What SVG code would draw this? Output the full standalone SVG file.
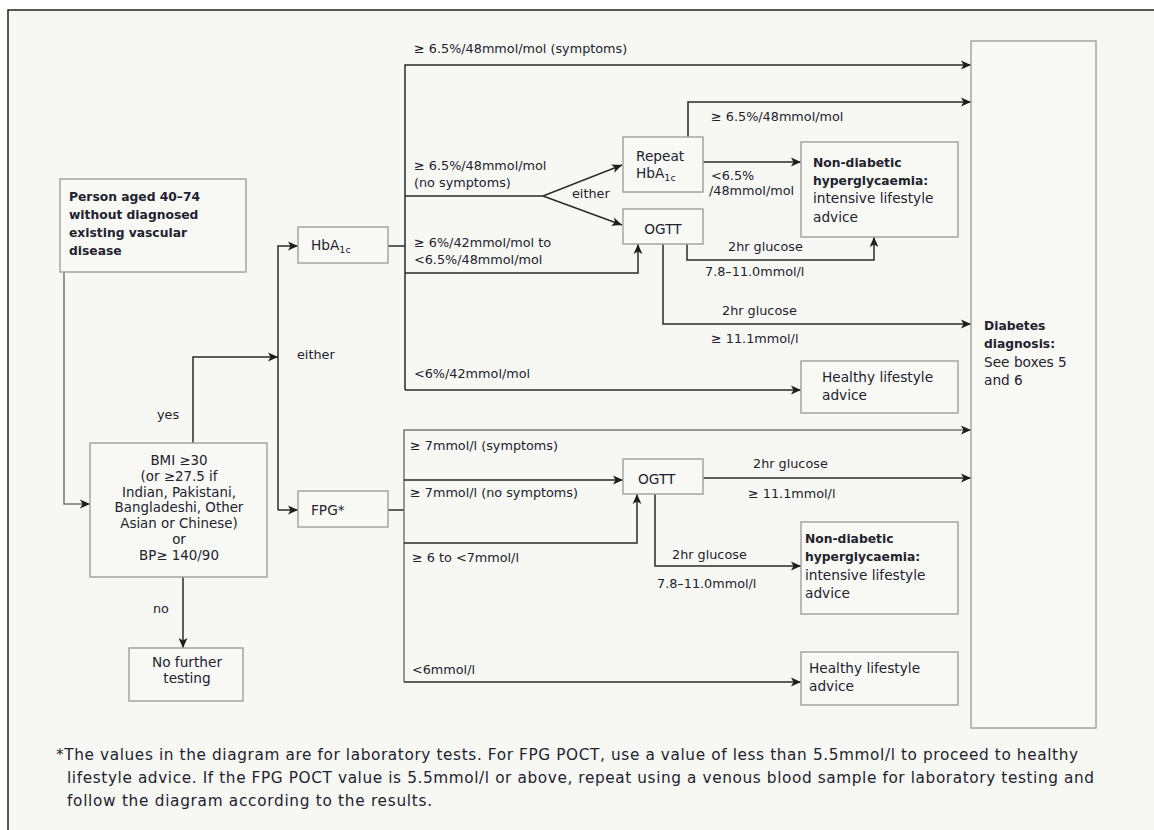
<svg xmlns="http://www.w3.org/2000/svg" width="1154" height="830" viewBox="0 0 1154 830">
<defs>
<style>
.bx{fill:#f8f9f5;stroke:#a5a5a5;stroke-width:1.5}
.c{fill:none;stroke:#2a2a2a;stroke-width:1.5}
.g{stroke:#777}
text{font-family:"DejaVu Sans","Liberation Sans",sans-serif;font-size:12.8px;fill:#22222e}
.n{font-size:13.7px}
.b{font-weight:bold;font-size:12.3px}
.m{text-anchor:middle}
.bmi{font-size:13.4px}
.fn{font-size:15.3px}
.sub{font-size:9.5px}
</style>
<marker id="a" markerUnits="userSpaceOnUse" markerWidth="11" markerHeight="10" refX="10" refY="5" orient="auto">
<path d="M0,0.6 L10,5 L0,9.4 L2.5,5 z" fill="#1e1e1e"/>
</marker>
</defs>
<rect x="0" y="0" width="1154" height="830" fill="#ffffff"/>
<rect x="8" y="10" width="1150" height="824" fill="#f7f8f3"/>
<path d="M8,834 V10 H1158" fill="none" stroke="#222" stroke-width="1.5"/>

<g id="connectors" marker-end="url(#a)">
<path class="c g" d="M64,272 V504 H90"/>
<path class="c" d="M193,443 V357 H278"/>
<path class="c" d="M278,510 V246 H298"/>
<path class="c" d="M278,510 H298"/>
<path class="c" d="M183,577 V648"/>
<path class="c" d="M388,246 H405" marker-end="none"/>
<path class="c" d="M405,390 V65 H971"/>
<path class="c" d="M405,196 H543 L622,165"/>
<path class="c" d="M543,196 L622,225"/>
<path class="c" d="M405,273 H638 V244"/>
<path class="c" d="M405,390 H801"/>
<path class="c" d="M688,137 V102 H971"/>
<path class="c" d="M703,162 H801"/>
<path class="c" d="M687,244 V260 H874 V237"/>
<path class="c" d="M663,244 V324 H971"/>
<path class="c" d="M388,510 H404" marker-end="none"/>
<path class="c g" d="M404,682 V430 H971"/>
<path class="c" d="M404,480 H623"/>
<path class="c" d="M404,543 H637 V494"/>
<path class="c" d="M404,682 H801"/>
<path class="c" d="M703,478 H971"/>
<path class="c" d="M655,494 V566 H801"/>
</g>

<g id="edge-labels">
<text x="414" y="53">≥ 6.5%/48mmol/mol (symptoms)</text>
<text x="414" y="170">≥ 6.5%/48mmol/mol<tspan x="414" dy="16.5">(no symptoms)</tspan></text>
<text x="572" y="198">either</text>
<text x="414" y="247">≥ 6%/42mmol/mol to<tspan x="414" dy="17">&lt;6.5%/48mmol/mol</tspan></text>
<text x="414" y="378">&lt;6%/42mmol/mol</text>
<text x="711" y="121">≥ 6.5%/48mmol/mol</text>
<text x="711" y="180">&lt;6.5%<tspan x="709" dy="15">/48mmol/mol</tspan></text>
<text x="728" y="251">2hr glucose</text>
<text x="705" y="276">7.8–11.0mmol/l</text>
<text x="722" y="315">2hr glucose</text>
<text x="711" y="343">≥ 11.1mmol/l</text>
<text x="297" y="359">either</text>
<text x="157" y="419">yes</text>
<text x="153" y="613">no</text>
<text x="410" y="450">≥ 7mmol/l (symptoms)</text>
<text x="410" y="497">≥ 7mmol/l (no symptoms)</text>
<text x="412" y="562">≥ 6 to &lt;7mmol/l</text>
<text x="412" y="674">&lt;6mmol/l</text>
<text x="753" y="468">2hr glucose</text>
<text x="748" y="498">≥ 11.1mmol/l</text>
<text x="672" y="559">2hr glucose</text>
<text x="657" y="588">7.8–11.0mmol/l</text>
</g>

<g id="person">
<rect class="bx" x="60" y="179" width="186" height="93"/>
<text class="b" x="69" y="201">Person aged 40–74<tspan x="69" dy="18">without diagnosed</tspan><tspan x="69" dy="18">existing vascular</tspan><tspan x="69" dy="18">disease</tspan></text>
</g>

<g id="bmi">
<rect class="bx" x="90" y="443" width="177" height="134"/>
<text class="bmi m" x="179" y="465">BMI ≥30<tspan x="179" dy="15.8">(or ≥27.5 if</tspan><tspan x="179" dy="15.8">Indian, Pakistani,</tspan><tspan x="179" dy="15.8">Bangladeshi, Other</tspan><tspan x="179" dy="15.8">Asian or Chinese)</tspan><tspan x="179" dy="15.8">or</tspan><tspan x="179" dy="15.8">BP≥ 140/90</tspan></text>
</g>

<g id="no-further">
<rect class="bx" x="129" y="648" width="114" height="53"/>
<text class="n m" x="187" y="667">No further<tspan x="187" dy="16">testing</tspan></text>
</g>

<g id="hba1c">
<rect class="bx" x="298" y="227" width="90" height="36"/>
<text class="n" x="311" y="250">HbA<tspan class="sub" dy="3">1c</tspan></text>
</g>

<g id="fpg">
<rect class="bx" x="298" y="491" width="90" height="36"/>
<text class="n" x="311" y="515">FPG*</text>
</g>

<g id="repeat-hba1c">
<rect class="bx" x="623" y="137" width="80" height="55"/>
<text class="n" x="636" y="161">Repeat<tspan x="636" dy="17">HbA</tspan><tspan class="sub" dy="3">1c</tspan></text>
</g>

<g id="ogtt1">
<rect class="bx" x="623" y="209" width="80" height="35"/>
<text class="n m" x="663" y="234">OGTT</text>
</g>

<g id="ogtt2">
<rect class="bx" x="623" y="459" width="80" height="35"/>
<text class="n" x="638" y="484">OGTT</text>
</g>

<g id="ndh1">
<rect class="bx" x="801" y="142" width="157" height="95"/>
<text class="b" x="813" y="167">Non-diabetic<tspan x="813" dy="18">hyperglycaemia:</tspan></text>
<text class="n" x="813" y="203">intensive lifestyle<tspan x="813" dy="19">advice</tspan></text>
</g>

<g id="healthy1">
<rect class="bx" x="801" y="361" width="157" height="52"/>
<text class="n" x="822" y="382">Healthy lifestyle<tspan x="822" dy="18">advice</tspan></text>
</g>

<g id="ndh2">
<rect class="bx" x="801" y="522" width="157" height="92"/>
<text class="b" x="805" y="543">Non-diabetic<tspan x="805" dy="18">hyperglycaemia:</tspan></text>
<text class="n" x="805" y="580">intensive lifestyle<tspan x="805" dy="18">advice</tspan></text>
</g>

<g id="healthy2">
<rect class="bx" x="801" y="652" width="157" height="53"/>
<text class="n" x="809" y="673">Healthy lifestyle<tspan x="809" dy="18">advice</tspan></text>
</g>

<g id="diabetes">
<rect class="bx" x="971" y="41" width="125" height="687"/>
<text class="b" x="984" y="330">Diabetes<tspan x="984" dy="18">diagnosis:</tspan></text>
<text class="n" x="984" y="367">See boxes 5<tspan x="984" dy="18">and 6</tspan></text>
</g>

<g id="footnote">
<text class="fn" x="56" y="760" textLength="1022">*The values in the diagram are for laboratory tests. For FPG POCT, use a value of less than 5.5mmol/l to proceed to healthy</text>
<text class="fn" x="67" y="783" textLength="1027">lifestyle advice. If the FPG POCT value is 5.5mmol/l or above, repeat using a venous blood sample for laboratory testing and</text>
<text class="fn" x="67" y="806" textLength="365">follow the diagram according to the results.</text>
</g>
</svg>
